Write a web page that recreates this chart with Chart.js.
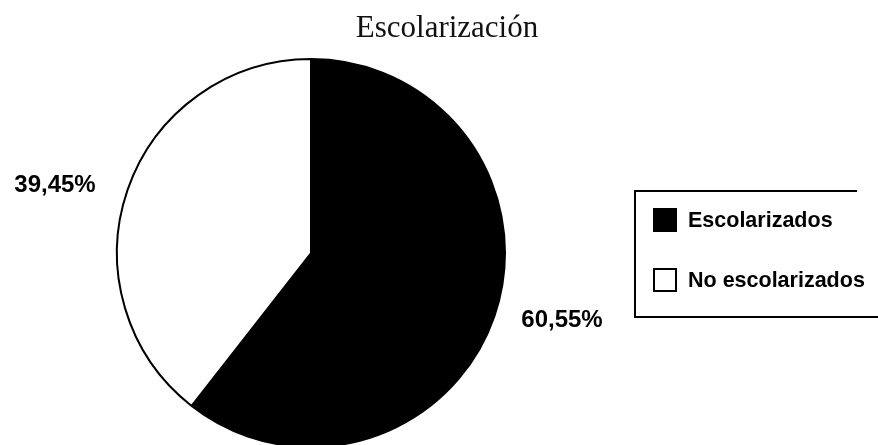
<!DOCTYPE html>
<html lang="es">
<head>
  <meta charset="UTF-8" />
  <title>Escolarización</title>
  <style>
    body {
      margin: 0;
      background-color: #ffffff;
      overflow: hidden;
    }
    .wrap {
      position: relative;
      width: 878px;
      height: 445px;
      overflow: hidden;
    }
  </style>
</head>
<body>
  <div class="wrap">
    <canvas id="grafico" width="878" height="460"></canvas>
  </div>

  <script src="https://cdn.jsdelivr.net/npm/chart.js"></script>
  <script>
    // datos
    const titulo = "Escolarización";
    const categorias = ["Escolarizados", "No escolarizados"];
    const valores = [60.55, 39.45];
    const colores = ["#000000", "#ffffff"];

    const fmt = v => v.toFixed(2).replace(".", ",") + "%";

    // título, porcentajes y leyenda con recuadro
    const extras = {
      id: "extras",
      afterDraw(chart) {
        const ctx = chart.ctx;
        ctx.save();
        ctx.fillStyle = "#111";
        ctx.textAlign = "center";
        ctx.textBaseline = "alphabetic";
        ctx.font = "31px 'Liberation Serif', 'DejaVu Serif', serif";
        ctx.fillText(titulo, 447, 37);

        // porcentajes
        const posLabels = [[562, 320], [55, 185]];
        ctx.font = "bold 24px 'Liberation Sans', Arial, sans-serif";
        ctx.textBaseline = "middle";
        ctx.fillStyle = "#000";
        valores.forEach((v, i) => {
          ctx.fillText(fmt(v), posLabels[i][0], posLabels[i][1]);
        });

        // leyenda: recuadro abierto a la derecha
        ctx.strokeStyle = "#000";
        ctx.lineWidth = 2;
        ctx.beginPath();
        ctx.moveTo(857, 191);
        ctx.lineTo(635, 191);
        ctx.lineTo(635, 317);
        ctx.lineTo(880, 317);
        ctx.stroke();
        ctx.textAlign = "left";
        ctx.font = "bold 21.5px 'Liberation Sans', Arial, sans-serif";
        categorias.forEach((c, i) => {
          const y = 220 + i * 60;
          ctx.fillStyle = colores[i];
          ctx.fillRect(653, y - 12, 24, 24);
          ctx.lineWidth = 2;
          ctx.strokeRect(654, y - 11, 22, 22);
          ctx.fillStyle = "#000";
          ctx.fillText(c, 688, y + 1);
        });
        ctx.restore();
      }
    };

    new Chart(document.getElementById("grafico"), {
      type: "pie",
      data: {
        labels: categorias,
        datasets: [{
          data: valores,
          backgroundColor: colores,
          borderColor: "#000",
          borderWidth: 2
        }]
      },
      options: {
        responsive: false,
        animation: false,
        layout: {
          padding: { left: 116, right: 372, top: 58, bottom: 12 }
        },
        plugins: {
          legend: { display: false },
          title: { display: false },
          tooltip: { enabled: false }
        }
      },
      plugins: [extras]
    });
  </script>
</body>
</html>
